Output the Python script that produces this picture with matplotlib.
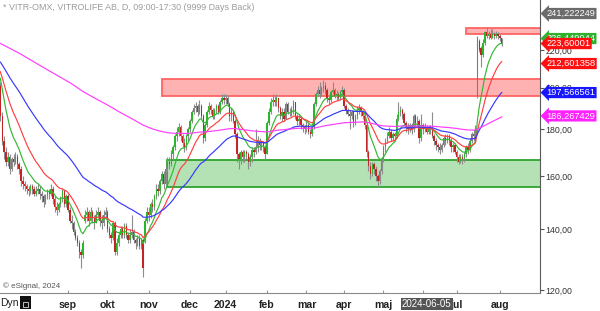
import numpy as np
import pandas as pd
import matplotlib
matplotlib.use('Agg')
import matplotlib.pyplot as plt
import matplotlib.transforms as mtransforms
from matplotlib.patches import Rectangle

plt.rcParams['font.family'] = ['Liberation Sans', 'DejaVu Sans']

# trading days (Stockholm), Jul 2023 - Aug 2024
holidays = ['2023-12-25', '2023-12-26', '2024-01-01', '2024-03-29', '2024-04-01',
            '2024-05-01', '2024-05-09', '2024-06-06', '2024-06-21']
days = pd.bdate_range('2023-07-13', '2024-08-02')
days = days[~days.isin(pd.to_datetime(holidays))]

# daily closes / highs / lows, month by month
jul23_c = [186, 175, 170, 166, 168, 163, 167, 166, 168, 165, 163, 158, 157]
jul23_h = [203, 188, 177, 172, 170, 169, 168, 169, 170, 169, 166, 164, 160]
jul23_l = [184, 173, 167, 164, 164, 161, 162, 164, 165, 163, 161, 156, 155]

aug23_c = [156, 155, 154, 156, 155, 153, 154, 155, 153, 152, 150, 152, 154, 153, 155, 151, 148, 147, 149, 151, 154, 149, 152]
aug23_h = [158, 157, 156, 157, 157, 156, 156, 157, 156, 154, 153, 153, 155, 155, 157, 156, 152, 150, 150, 152, 155, 155, 153]
aug23_l = [154, 153, 152, 153, 153, 152, 152, 153, 151, 150, 148, 149, 151, 151, 152, 149, 146, 145, 146, 148, 150, 148, 148]

sep23_c = [147, 143, 142, 139, 137, 135, 132, 131, 135, 145, 146, 143, 146, 144, 142, 145, 146, 143, 142, 145, 146]
sep23_h = [153, 148, 145, 143, 140, 138, 136, 133, 136, 147, 148, 147, 148, 147, 145, 147, 148, 147, 145, 147, 148]
sep23_l = [146, 142, 140, 138, 136, 134, 130, 127, 130, 142, 143, 141, 143, 142, 140, 142, 144, 141, 140, 141, 144]

okt23_c = [140, 138, 137, 142, 132, 135, 138, 140, 138, 141, 138, 136, 138, 139, 136, 135, 137, 134, 136, 127, 143, 146]
okt23_h = [147, 141, 139, 143, 143, 137, 139, 141, 141, 142, 142, 139, 140, 145, 140, 137, 138, 138, 137, 137, 144, 148]
okt23_l = [139, 137, 135, 136, 131, 131, 134, 137, 137, 137, 137, 135, 135, 137, 135, 133, 134, 133, 133, 124, 135, 142]

nov23_c = [145, 149, 148, 152, 155, 154, 158, 161, 157, 163, 166, 165, 169, 172, 177, 179, 181, 177, 174, 172, 177, 180]
nov23_h = [148, 150, 151, 153, 157, 157, 159, 162, 162, 164, 168, 168, 171, 173, 178, 181, 183, 182, 178, 176, 178, 181]
nov23_l = [143, 144, 146, 147, 151, 152, 153, 157, 155, 156, 162, 163, 164, 167, 171, 175, 177, 175, 172, 170, 171, 175]

dec23_c = [184, 188, 190, 191, 188, 191, 186, 176, 182, 188, 191, 189, 186, 189, 191, 188, 193, 195, 194]
dec23_h = [185, 189, 192, 193, 192, 194, 192, 187, 183, 189, 193, 192, 190, 190, 192, 192, 194, 197, 197]
dec23_l = [179, 183, 187, 188, 186, 187, 185, 174, 175, 181, 187, 187, 185, 185, 187, 187, 187, 192, 192]

jan24_c = [195, 192, 186, 188, 184, 178, 169, 167, 170, 168, 170, 169, 166, 168, 171, 170, 172, 175, 173, 174, 172, 169]
jan24_h = [197, 196, 193, 190, 189, 185, 179, 170, 171, 171, 171, 171, 170, 169, 172, 172, 180, 177, 176, 175, 175, 173]
jan24_l = [192, 191, 184, 184, 183, 176, 166, 163, 165, 166, 166, 167, 163, 164, 166, 168, 169, 170, 171, 171, 170, 167]

feb24_c = [183, 188, 193, 194, 193, 195, 190, 186, 188, 185, 192, 188, 188, 189, 193, 186, 184, 185, 182, 181, 180]
feb24_h = [184, 190, 195, 197, 196, 197, 195, 191, 190, 190, 193, 193, 190, 191, 194, 193, 187, 187, 186, 183, 182]
feb24_l = [169, 182, 187, 191, 191, 191, 188, 185, 184, 184, 185, 187, 186, 186, 187, 185, 182, 182, 180, 179, 178]

mar24_c = [182, 179, 178, 181, 192, 197, 199, 197, 200, 201, 199, 195, 194, 198, 199, 196, 197, 195, 198, 199]
mar24_h = [184, 183, 180, 182, 193, 198, 201, 203, 201, 204, 203, 200, 196, 199, 203, 200, 199, 198, 199, 201]
mar24_l = [179, 178, 176, 177, 180, 191, 196, 195, 196, 198, 197, 193, 192, 193, 197, 195, 194, 194, 194, 196]

apr24_c = [191, 189, 187, 186, 188, 183, 186, 189, 190, 188, 186, 182, 170, 164, 161, 165, 163, 160, 158, 162, 167]
apr24_h = [200, 192, 190, 189, 189, 189, 187, 191, 192, 191, 189, 188, 183, 171, 166, 166, 166, 164, 161, 163, 168]
apr24_l = [190, 187, 186, 180, 185, 181, 182, 185, 187, 186, 185, 180, 168, 162, 159, 160, 161, 158, 155.5, 157, 161]

may24_c = [172, 175, 177, 179, 176, 178, 177, 185, 188, 189, 187, 183, 181, 180, 182, 180, 186, 183, 184, 176, 182]
may24_h = [173, 176, 179, 181, 180, 179, 179, 187, 193, 191, 190, 188, 184, 183, 183, 183, 187, 187, 186, 185, 187]
may24_l = [166, 170, 174, 176, 175, 175, 175, 176, 184, 186, 185, 182, 179, 178, 179, 178, 179, 181, 181, 174, 175]

jun24_c = [180, 181, 179, 181, 180, 177, 175, 173, 172, 171, 173, 176, 175, 177, 175, 172, 173, 170]
jun24_h = [183, 183, 182, 182, 182, 188, 178, 176, 174, 174, 174, 177, 178, 178, 178, 176, 174, 174]
jun24_l = [178, 179, 178, 178, 178, 176, 173, 171, 170, 169, 170, 172, 173, 174, 173, 170, 170, 169]

jul24_c = [168, 166, 168, 167, 169, 172, 171, 175, 178, 177, 180, 227, 220, 217, 224, 230, 228, 229, 227, 229, 228, 229, 228]
jul24_h = [171, 169, 169, 169, 170, 173, 174, 176, 179, 180, 182, 228, 226, 222, 226, 231, 233, 231, 232, 232, 230, 231, 230]
jul24_l = [166, 165, 165.5, 165, 166, 168, 169, 170, 174, 175, 176, 195, 219, 211, 216, 223, 227, 226, 226, 227, 226, 227, 226]

aug24_c = [227, 223.6]
aug24_h = [229, 227]
aug24_l = [225, 222]

first_open = 201
gap_opens = {45: 143, 77: 136, 254: 196, 255: 225, 256: 221}

# moving averages: spans and their values at the left edge of the chart
ma_spans = [10, 20, 50, 200]
ma_start = [209, 210.6, 214.5, 224]
ma_colors = ['#34b834', '#ff4040', '#3838ff', '#ff3cff']

# support / resistance zones (low, high, start day)
zone_lo = [196.0, 229.0, 155.5]
zone_hi = [204.5, 232.5, 166.7]
zone_start = ['2023-11-10', '2024-07-08', '2023-11-15']
zone_fc = ['#ffb2b2', '#ffb2b2', '#b4e2b4']
zone_ec = ['#ff6464', '#ff6464', '#2ca52c']

# price markers on the right axis
marker_vals = [241.222249, 226.449044, 223.60001, 212.601358, 197.566561, 186.267429]
marker_cols = ['#6b6b6b', '#2fb12f', '#ff1010', '#ff1010', '#1616ff', '#ff22ff']

month_ticks = ['2023-09-01', '2023-10-02', '2023-11-01', '2023-12-01', '2024-01-02',
               '2024-02-01', '2024-03-01', '2024-04-02', '2024-05-02', '2024-06-03',
               '2024-07-01', '2024-08-01']
month_names = ['sep', 'okt', 'nov', 'dec', '2024', 'feb', 'mar', 'apr', 'maj', '', 'jul', 'aug']
cursor_day = '2024-06-05'

closes = np.array(jul23_c + aug23_c + sep23_c + okt23_c + nov23_c + dec23_c + jan24_c
                  + feb24_c + mar24_c + apr24_c + may24_c + jun24_c + jul24_c + aug24_c, float)
highs = np.array(jul23_h + aug23_h + sep23_h + okt23_h + nov23_h + dec23_h + jan24_h
                 + feb24_h + mar24_h + apr24_h + may24_h + jun24_h + jul24_h + aug24_h, float)
lows = np.array(jul23_l + aug23_l + sep23_l + okt23_l + nov23_l + dec23_l + jan24_l
                + feb24_l + mar24_l + apr24_l + may24_l + jun24_l + jul24_l + aug24_l, float)
n = len(closes)
days = days[:n]
opens = np.r_[first_open, closes[:-1]]
for k, v in gap_opens.items():
    opens[k] = v
x = np.arange(n)


def day_idx(d):
    return int(np.searchsorted(days, pd.Timestamp(d)))


fig = plt.figure(figsize=(6, 3.11), dpi=100)
ax = fig.add_axes([0, 18 / 311, 540 / 600, 293 / 311])
ax.set_yscale('log')
ax.set_xlim(-0.19, 287.35)
ax.set_ylim(119.1, 249.6)

# zones
for lo, hi, st, fc, ec in zip(zone_lo, zone_hi, zone_start, zone_fc, zone_ec):
    ax.add_patch(Rectangle((day_idx(st), lo), 400, hi - lo, facecolor=fc,
                           edgecolor=ec, lw=1.3, zorder=1))

# candles
up = closes >= opens
ax.vlines(x, lows, highs, color='#8c8c8c', lw=0.8, zorder=2)
body_lo = np.minimum(opens, closes)
body_h = np.maximum(np.abs(closes - opens), 0.3)
ax.bar(x, body_h, bottom=body_lo, width=0.72,
       color=np.where(up, '#2db42d', '#c42424'), zorder=3)

# moving averages
for span, start, col in zip(ma_spans, ma_start, ma_colors):
    s = pd.Series(np.r_[start, closes]).ewm(span=span, adjust=False).mean().values[1:]
    ax.plot(x, s, color=col, lw=0.85, zorder=4)

# axes styling
for side in ['left', 'top']:
    ax.spines[side].set_visible(False)
ax.spines['right'].set_color('#5a5a5a')
ax.spines['bottom'].set_color('#8a8a8a')
ax.yaxis.tick_right()
yt = [120, 140, 160, 180, 200, 220]
ax.set_yticks(yt)
ax.set_yticklabels([('%.2f' % v).replace('.', ',') for v in yt])
ax.yaxis.set_minor_locator(matplotlib.ticker.NullLocator())
ax.tick_params(axis='y', length=3, width=0.8, color='#555555', labelsize=6.3,
               labelcolor='#333333', pad=1)
ax.set_xticks([day_idx(d) for d in month_ticks])
ax.set_xticklabels(month_names)
ax.tick_params(axis='x', direction='in', length=2, color='#9a9a9a', labelsize=7.6,
               labelcolor='#222222', pad=5)
for t in ax.get_xticklabels():
    t.set_fontweight('bold')

# right-side price markers
trans = mtransforms.blended_transform_factory(ax.transAxes, ax.transData)
for v, c in zip(marker_vals, marker_cols):
    ax.text(1.012, v, ('%f' % v).rstrip('0').replace('.', ','), transform=trans,
            fontsize=6.7, color='white', va='center', ha='left', clip_on=False,
            zorder=6, bbox=dict(boxstyle='larrow,pad=0.12', fc=c, ec=c, lw=0))

# texts
fig.text(3 / 600, 1 - 8 / 311, '* VITR-OMX, VITROLIFE AB, D, 09:00-17:30 (9999 Days Back)',
         fontsize=6.4, color='#9c9c9c', va='center')
fig.text(3 / 600, 1 - 286 / 311, '\u00a9 eSignal, 2024', fontsize=5.8, color='#555555',
         va='center')
fig.text(0, 1 - 303 / 311, 'Dyn', fontsize=7.5, color='#222222', va='center')
fig.patches.append(Rectangle((19.5 / 600, 2 / 311), 11 / 600, 13 / 311, transform=fig.transFigure,
                             facecolor='#111111', edgecolor='none'))
fig.patches.append(Rectangle((22.5 / 600, 4 / 311), 5 / 600, 5 / 311, transform=fig.transFigure,
                             facecolor='none', edgecolor='#dddddd', lw=0.6))
cx = ax.transData.transform((day_idx(cursor_day), 150))[0] / fig.bbox.width
fig.text(cx, 1 - 304 / 311, cursor_day, fontsize=7.0, color='white', ha='center',
         va='center', zorder=6,
         bbox=dict(boxstyle='square,pad=0.12', fc='#555555', ec='none'))

fig.savefig('out.png', dpi=100, facecolor='white')
